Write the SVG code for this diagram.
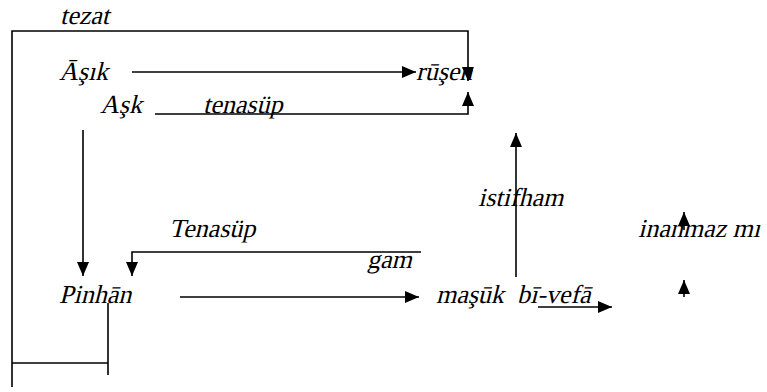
<svg xmlns="http://www.w3.org/2000/svg" width="767" height="392" viewBox="0 0 767 392">
<defs>
<style>
text{font-family:'Liberation Serif','Times New Roman',serif;font-style:normal;font-size:26px;fill:#000}
.c{fill:none;stroke:#000;stroke-width:1.6}
</style>
<marker id="ah" markerUnits="userSpaceOnUse" markerWidth="16" markerHeight="14" refX="14" refY="6" orient="auto">
<path d="M0,0 L14,6 L0,12 Z" fill="#000"/>
</marker>
</defs>
<rect width="767" height="392" fill="#fff"/>
<g id="connectors">
<path class="c" d="M12,387 V31 H468 V81" marker-end="url(#ah)"/>
<path class="c" d="M132,72 H416" marker-end="url(#ah)"/>
<path class="c" d="M155,114 H468 V92" marker-end="url(#ah)"/>
<path class="c" d="M83,130 V276" marker-end="url(#ah)"/>
<path class="c" d="M421,252 H132 V276" marker-end="url(#ah)"/>
<path class="c" d="M180,297 H419" marker-end="url(#ah)"/>
<path class="c" d="M516,277 V133" marker-end="url(#ah)"/>
<path class="c" d="M538,307 H612" marker-end="url(#ah)"/>
<path class="c" d="M684,230 V212" marker-end="url(#ah)"/>
<path class="c" d="M684,297 V280" marker-end="url(#ah)"/>
<path class="c" d="M12,363 H108 M108,303 V375"/>
</g>
<g id="tezat"><text transform="translate(60,24) skewX(-14)">tezat</text></g>
<g id="asik"><text transform="translate(59,80) skewX(-14)">Āşık</text></g>
<g id="rusen"><text transform="translate(416,80) skewX(-14)">rūşen</text></g>
<g id="ask"><text transform="translate(100,113) skewX(-14)">Aşk</text></g>
<g id="tenasup1"><text transform="translate(203,113) skewX(-14)">tenasüp</text></g>
<g id="tenasup2"><text transform="translate(169,237) skewX(-14)">Tenasüp</text></g>
<g id="gam"><text transform="translate(367,268) skewX(-14)">gam</text></g>
<g id="istifham"><text transform="translate(478,206) skewX(-14)">istifham</text></g>
<g id="inanmaz"><text transform="translate(638,237) skewX(-14)">inanmaz mı</text></g>
<g id="pinhan"><text transform="translate(59,303) skewX(-14)">Pinhān</text></g>
<g id="masuk"><text transform="translate(436,303) skewX(-14)">maşūk</text></g>
<g id="bivefa"><text transform="translate(517,303) skewX(-14)">bī-vefā</text></g>
</svg>
